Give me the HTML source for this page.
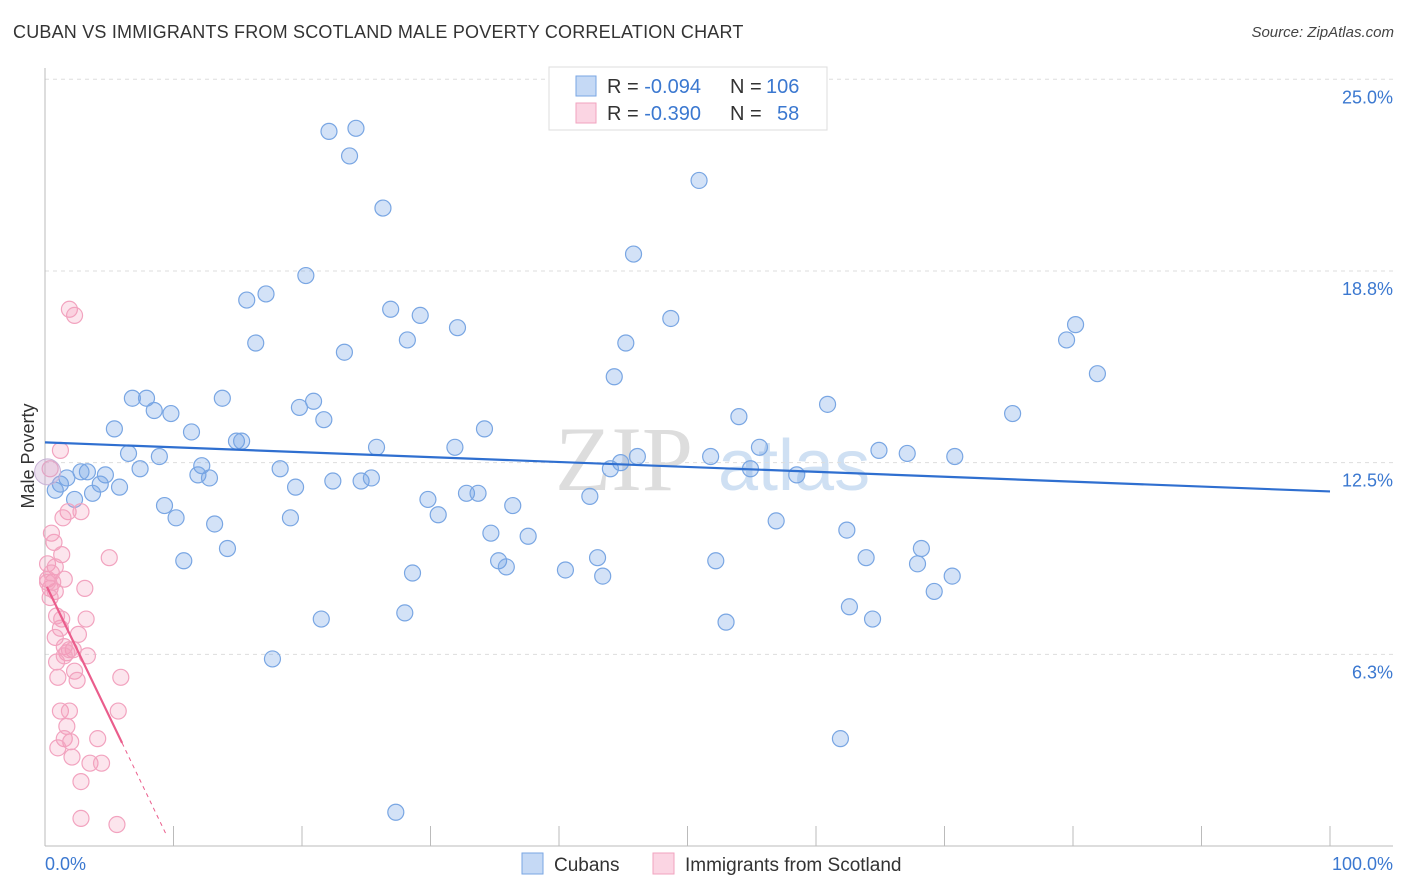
<!DOCTYPE html>
<html><head><meta charset="utf-8">
<style>
body{margin:0;background:#fff;font-family:"Liberation Sans",sans-serif;}
#wrap{position:relative;width:1406px;height:892px;overflow:hidden;}
.title{position:absolute;left:13px;top:22px;font-size:18px;color:#333;letter-spacing:0.2px}
.src{position:absolute;right:12px;top:24px;font-size:15px;color:#444;font-style:italic}
</style></head><body>
<div id="wrap">
<div class="title">CUBAN VS IMMIGRANTS FROM SCOTLAND MALE POVERTY CORRELATION CHART</div>
<div class="src">Source: ZipAtlas.com</div>
<svg id="svg" width="1406" height="892" style="position:absolute;left:0;top:0"></svg>
</div>
<script>
const yTicks=[6.3,12.5,18.8,25.0];
const yTickLabels=["6.3%","12.5%","18.8%","25.0%"];
const xTickLabels=["0.0%","100.0%"];
const cubanX=[22.1,24.2,23.7,26.3,50.9,45.8,20.3,15.7,17.2,26.9,29.2,32.1,16.4,23.3,28.2,45.2,48.7,44.3,80.2,79.5,81.9,6.8,7.9,8.5,9.8,13.8,19.8,20.9,21.7,11.4,5.4,14.9,15.3,25.8,31.9,34.2,54.0,60.9,75.3,6.5,8.9,12.2,11.9,12.8,7.4,4.7,3.3,2.8,1.7,1.2,0.8,4.3,3.7,2.3,5.8,18.3,19.5,22.4,24.6,25.4,44.0,44.8,46.1,51.8,54.9,55.6,58.5,64.9,67.1,70.8,9.3,10.2,13.2,19.1,29.8,30.6,32.8,33.7,36.4,34.7,37.6,42.4,56.9,62.4,14.2,10.8,28.6,35.3,35.9,40.5,43.0,43.4,52.2,63.9,68.2,67.9,70.6,69.2,21.5,28.0,62.6,64.4,53.0,17.7,61.9,27.3];
const cubanY=[23.3,23.4,22.5,20.8,21.7,19.3,18.6,17.8,18.0,17.5,17.3,16.9,16.4,16.1,16.5,16.4,17.2,15.3,17.0,16.5,15.4,14.6,14.6,14.2,14.1,14.6,14.3,14.5,13.9,13.5,13.6,13.2,13.2,13.0,13.0,13.6,14.0,14.4,14.1,12.8,12.7,12.4,12.1,12.0,12.3,12.1,12.2,12.2,12.0,11.8,11.6,11.8,11.5,11.3,11.7,12.3,11.7,11.9,11.9,12.0,12.3,12.5,12.7,12.7,12.3,13.0,12.1,12.9,12.8,12.7,11.1,10.7,10.5,10.7,11.3,10.8,11.5,11.5,11.1,10.2,10.1,11.4,10.6,10.3,9.7,9.3,8.9,9.3,9.1,9.0,9.4,8.8,9.3,9.4,9.7,9.2,8.8,8.3,7.4,7.6,7.8,7.4,7.3,6.1,3.5,1.1];
const scotX=[1.9,2.3,1.2,0.4,1.8,2.8,1.4,0.5,0.7,1.3,5.0,0.2,0.8,0.2,1.5,0.4,0.8,3.1,0.4,0.9,3.2,1.2,2.6,0.8,1.5,2.2,1.7,1.9,3.3,0.9,1.5,2.3,1.0,2.5,5.9,1.2,1.9,5.7,1.7,4.1,1.5,2.0,1.0,2.1,3.5,4.4,2.8,2.8,5.6,0.6,1.3,0.2,0.5];
const scotY=[17.5,17.3,12.9,12.3,10.9,10.9,10.7,10.2,9.9,9.5,9.4,9.2,9.1,8.7,8.7,8.4,8.3,8.4,8.1,7.5,7.4,7.1,6.9,6.8,6.5,6.4,6.3,6.4,6.2,6.0,6.2,5.7,5.5,5.4,5.5,4.4,4.4,4.4,3.9,3.5,3.5,3.4,3.2,2.9,2.7,2.7,2.1,0.9,0.7,8.6,7.4,8.6,8.9];
const cubanTrend=[13.16,-0.016];
const scotTrend=[8.58,-0.87];

const NS="http://www.w3.org/2000/svg";
const svg=document.getElementById('svg');
const X=v=>45+v*12.85;
const Y=v=>846-v*30.67;
function el(t,a,p){const e=document.createElementNS(NS,t);for(const k in a)e.setAttribute(k,a[k]);(p||svg).appendChild(e);return e;}

// watermark
let w=el('text',{x:555,y:490,'font-size':92,fill:'#ddd','font-family':'Liberation Serif, serif'});w.textContent='ZIP';


let w2=el('text',{x:718,y:490,'font-size':72,fill:'#cfe0f3','font-family':'Liberation Sans, sans-serif'});w2.textContent='atlas';



// gridlines & y labels
yTicks.forEach((t,i)=>{
  const g=el('line',{x1:45,x2:1393,y1:Y(t===25?25:t===18.8?18.75:t===12.5?12.5:6.25),y2:Y(t===25?25:t===18.8?18.75:t===12.5?12.5:6.25),stroke:'#ddd','stroke-dasharray':'4,4'});
  
  
  const tx=el('text',{x:1393,y:Y(t===25?25:t===18.8?18.75:t===12.5?12.5:6.25)+24,'text-anchor':'end','font-size':18,fill:'#3b78d0'});
  tx.textContent=yTickLabels[i];
  
  
});
// axes
let ax=el('line',{x1:45,x2:45,y1:68,y2:846,stroke:'#bbb'});


let bx=el('line',{x1:45,x2:1393,y1:846,y2:846,stroke:'#bbb'});


for(let i=1;i<=10;i++){const t=el('line',{x1:X(i*10),x2:X(i*10),y1:826,y2:846,stroke:'#bbb'});

}
let xl0=el('text',{x:45,y:870,'font-size':18,fill:'#3b78d0'});xl0.textContent=xTickLabels[0];


let xl1=el('text',{x:1393,y:870,'text-anchor':'end','font-size':18,fill:'#3b78d0'});xl1.textContent=xTickLabels[1];


let yt=el('text',{x:34,y:456,'font-size':18,fill:'#333','text-anchor':'middle',transform:'rotate(-90 34 456)'});yt.textContent='Male Poverty';



// points
cubanX.forEach((v,i)=>{const c=el('circle',{cx:X(v),cy:Y(cubanY[i]),r:8,fill:'rgba(110,160,230,0.3)',stroke:'#79a6e3','stroke-width':1.2});

});
scotX.forEach((v,i)=>{const c=el('circle',{cx:X(v),cy:Y(scotY[i]),r:8,fill:'rgba(245,150,185,0.25)',stroke:'#f2a3bf','stroke-width':1.2});

});
let big=el('circle',{cx:X(0.2),cy:Y(12.2),r:13,fill:'rgba(200,170,210,0.35)',stroke:'#c9b3d6'});



// trends
let bl=el('line',{x1:X(0),y1:Y(cubanTrend[0]),x2:X(100),y2:Y(cubanTrend[0]+100*cubanTrend[1]),stroke:'#2f6fd0','stroke-width':2.2});


let pl=el('line',{x1:X(0.15),y1:Y(scotTrend[0]+0.15*scotTrend[1]),x2:X(6),y2:Y(scotTrend[0]+6*scotTrend[1]),stroke:'#ea5d8c','stroke-width':2.2});


let pd=el('line',{x1:X(6),y1:Y(scotTrend[0]+6*scotTrend[1]),x2:X(9.4),y2:Y(scotTrend[0]+9.4*scotTrend[1]),stroke:'#ea5d8c','stroke-width':1,'stroke-dasharray':'4,4'});



// legend box
let lb=el('rect',{x:549,y:67,width:278,height:63,fill:'#fff',stroke:'#ddd'});


[[76,'rgba(110,160,230,0.4)','#79a6e3','-0.094','106'],[103,'rgba(245,150,185,0.4)','#f2a3bf','-0.390','58']].forEach((r,i)=>{
  const s=el('rect',{x:576,y:r[0],width:20,height:20,fill:r[1],stroke:r[2]});
  
  
  const t=el('text',{x:607,y:r[0]+17,'font-size':20,fill:'#333'});
  t.innerHTML='R = <tspan fill="#3b78d0">'+r[3]+'</tspan>';
  
  
  const n=el('text',{x:730,y:r[0]+17,'font-size':20,fill:'#333'});
  n.innerHTML='N = <tspan fill="#3b78d0" x="'+(i?777:766)+'">'+r[4]+'</tspan>';
  
  
});
// bottom legend
[[522,'rgba(110,160,230,0.4)','#79a6e3','Cubans',554],[653,'rgba(245,150,185,0.4)','#f2a3bf','Immigrants from Scotland',685]].forEach(r=>{
  const s=el('rect',{x:r[0],y:853,width:21,height:21,fill:r[1],stroke:r[2]});
  
  
  const t=el('text',{x:r[4],y:871,'font-size':19,fill:'#333'});t.textContent=r[3];
  
  
});
</script>
</body></html>
